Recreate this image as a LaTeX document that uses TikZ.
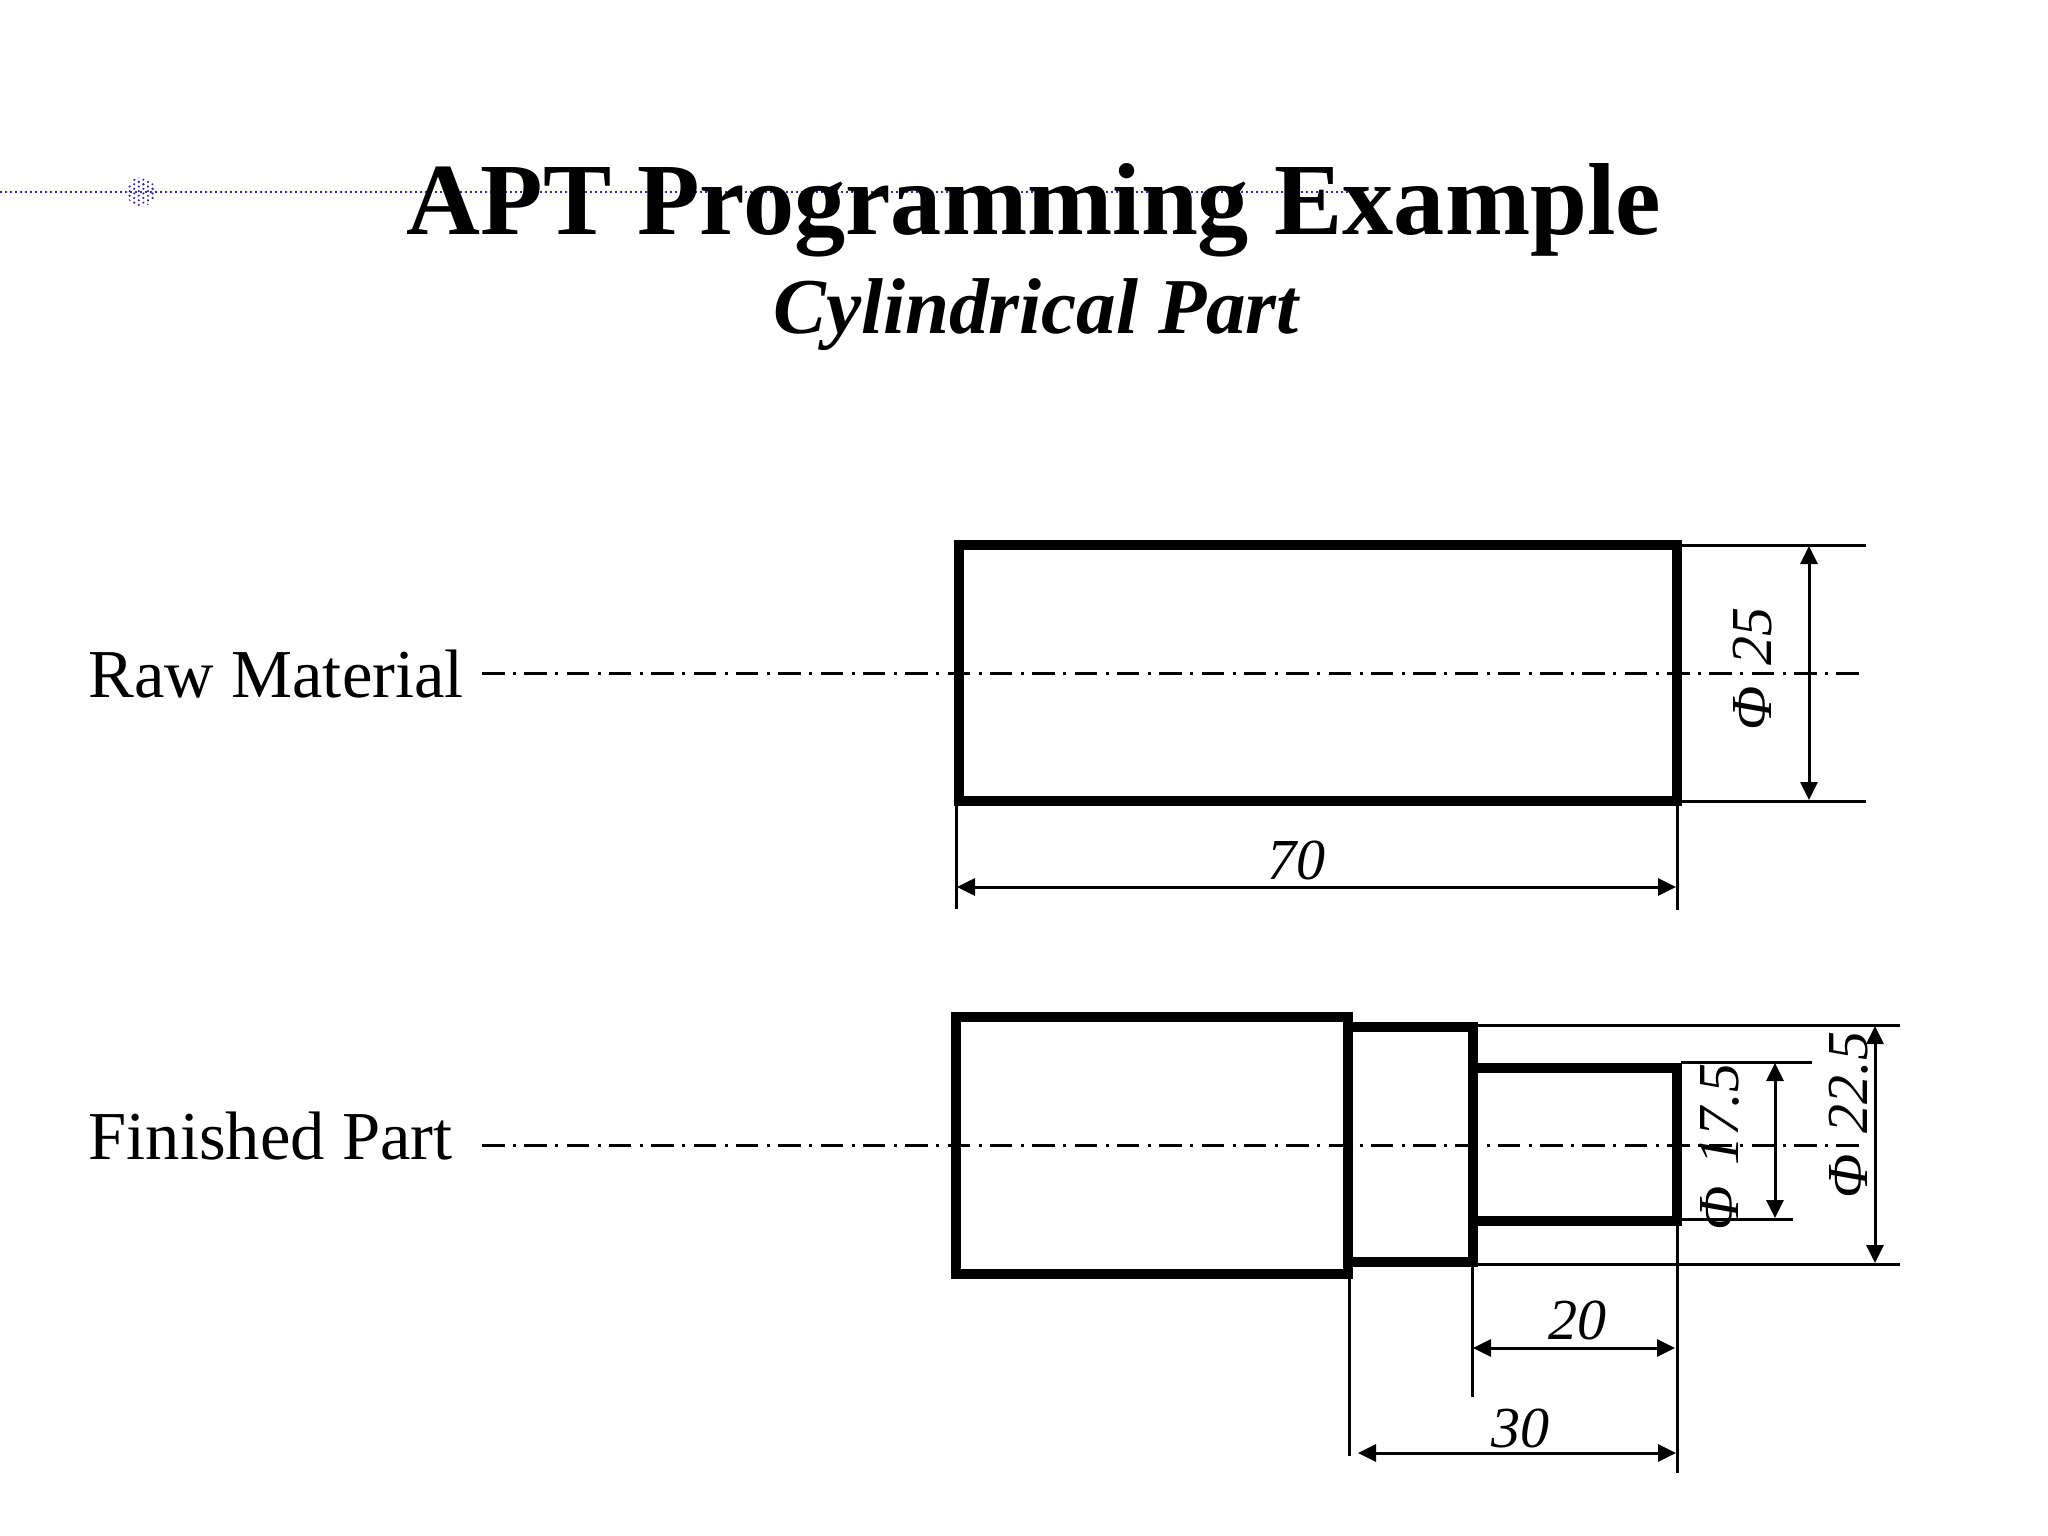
\documentclass[tikz,border=0pt]{standalone}
\usepackage{fontspec}
\setmainfont{Liberation Serif}
\usetikzlibrary{arrows.meta}
\definecolor{ruleblue}{RGB}{50,40,180}

\begin{document}
\begin{tikzpicture}[x = 0.01cm, y = -0.01cm,
	part/.style = {line width = 0.092cm, line join = miter},
	thin line/.style = {line width = 0.03cm},
	dim/.style = {line width = 0.03cm, {Triangle[length=0.18cm,width=0.17cm]}-{Triangle[length=0.18cm,width=0.17cm]}},
	axis line/.style = {line width = 0.03cm, dash pattern = on 0.225cm off 0.085cm on 0.03cm off 0.083cm},
	size label/.style = {font = \fontsize{16.5}{18}\selectfont\itshape, inner sep = 0pt},
	side label/.style = {font = \fontsize{19.5}{22}\selectfont, inner sep = 0pt, anchor = west}]
	\useasboundingbox (0, 0) rectangle (2048, 1536);

	% header rule
	\draw[ruleblue, line width = 0.02cm, dash pattern = on 0.02cm off 0.03cm] (0, 192) -- (1352, 192);
	\begin{scope}
		\clip (141, 192) circle (14.5);
		\foreach \i in {0,...,7}{
			\foreach \j in {0,...,7}{
				\fill[ruleblue] (125 + 4.6*\i, 175 + 4.6*\j + 2.3*\i) circle (1.2);
				\fill[ruleblue] (125 + 4.6*\i, 175 - 4.6*\j + 2.3*\i) circle (1.2);
				};
			};
	\end{scope}
	\node[font = \fontsize{29.1}{32}\selectfont\bfseries, inner sep = 0pt] (title) at (1034, 210) {APT Programming Example};
	\node[font = \fontsize{22.5}{26}\selectfont\bfseries\itshape, inner sep = 0pt] (subtitle) at (1036, 315) {Cylindrical Part};

	\node[side label] (raw) at (88, 674) {Raw Material};
	\node[side label] (finished) at (88, 1136) {Finished Part};

	% center lines
	\draw[axis line] (482, 673) -- (1859, 673);
	\draw[axis line] (482, 1145) -- (1859, 1145);

	% raw material
	\draw[part] (959, 545) rectangle (1677, 801);
	\foreach \y in {545, 801}{
		\draw[thin line] (1681, \y) -- (1866, \y);
		};
	\draw[thin line] (956, 805) -- (956, 909);
	\draw[thin line] (1677, 805) -- (1677, 910);
	\draw[dim] (1809, 546) -- (1809, 800);
	\draw[dim] (957, 887) -- (1676, 887);
	\node[size label] (seventy) at (1296, 860) {70};
	\node[size label, rotate = 90] (phi raw) at (1753, 669) {Φ\hspace{0.12em} 25};

	% finished part
	\draw[part] (956, 1017) rectangle (1348, 1274);
	\draw[part] (1348, 1027) rectangle (1473, 1262);
	\draw[part] (1473, 1068) rectangle (1677, 1221);
	\foreach \y in {1025, 1264}{
		\draw[thin line] (1444, \y) -- (1900, \y);
		};
	\draw[thin line] (1681, 1062) -- (1812, 1062);
	\draw[thin line] (1681, 1219) -- (1793, 1219);
	\draw[dim] (1775, 1063) -- (1775, 1218);
	\draw[dim] (1875, 1026) -- (1875, 1263);
	\draw[thin line] (1349, 1278) -- (1349, 1456);
	\draw[thin line] (1472, 1267) -- (1472, 1397);
	\draw[thin line] (1677, 1226) -- (1677, 1473);
	\draw[dim] (1473, 1348) -- (1675, 1348);
	\draw[dim] (1358, 1453) -- (1676, 1453);
	\node[size label] (twenty) at (1577, 1320) {20};
	\node[size label] (thirty) at (1520, 1428) {30};
	\node[size label, rotate = 90] (phi small) at (1720, 1147) {Φ\hspace{0.12em} 17.5};
	\node[size label, rotate = 90] (phi collar) at (1849, 1115) {Φ\hspace{0.12em} 22.5};
\end{tikzpicture}
\end{document}
